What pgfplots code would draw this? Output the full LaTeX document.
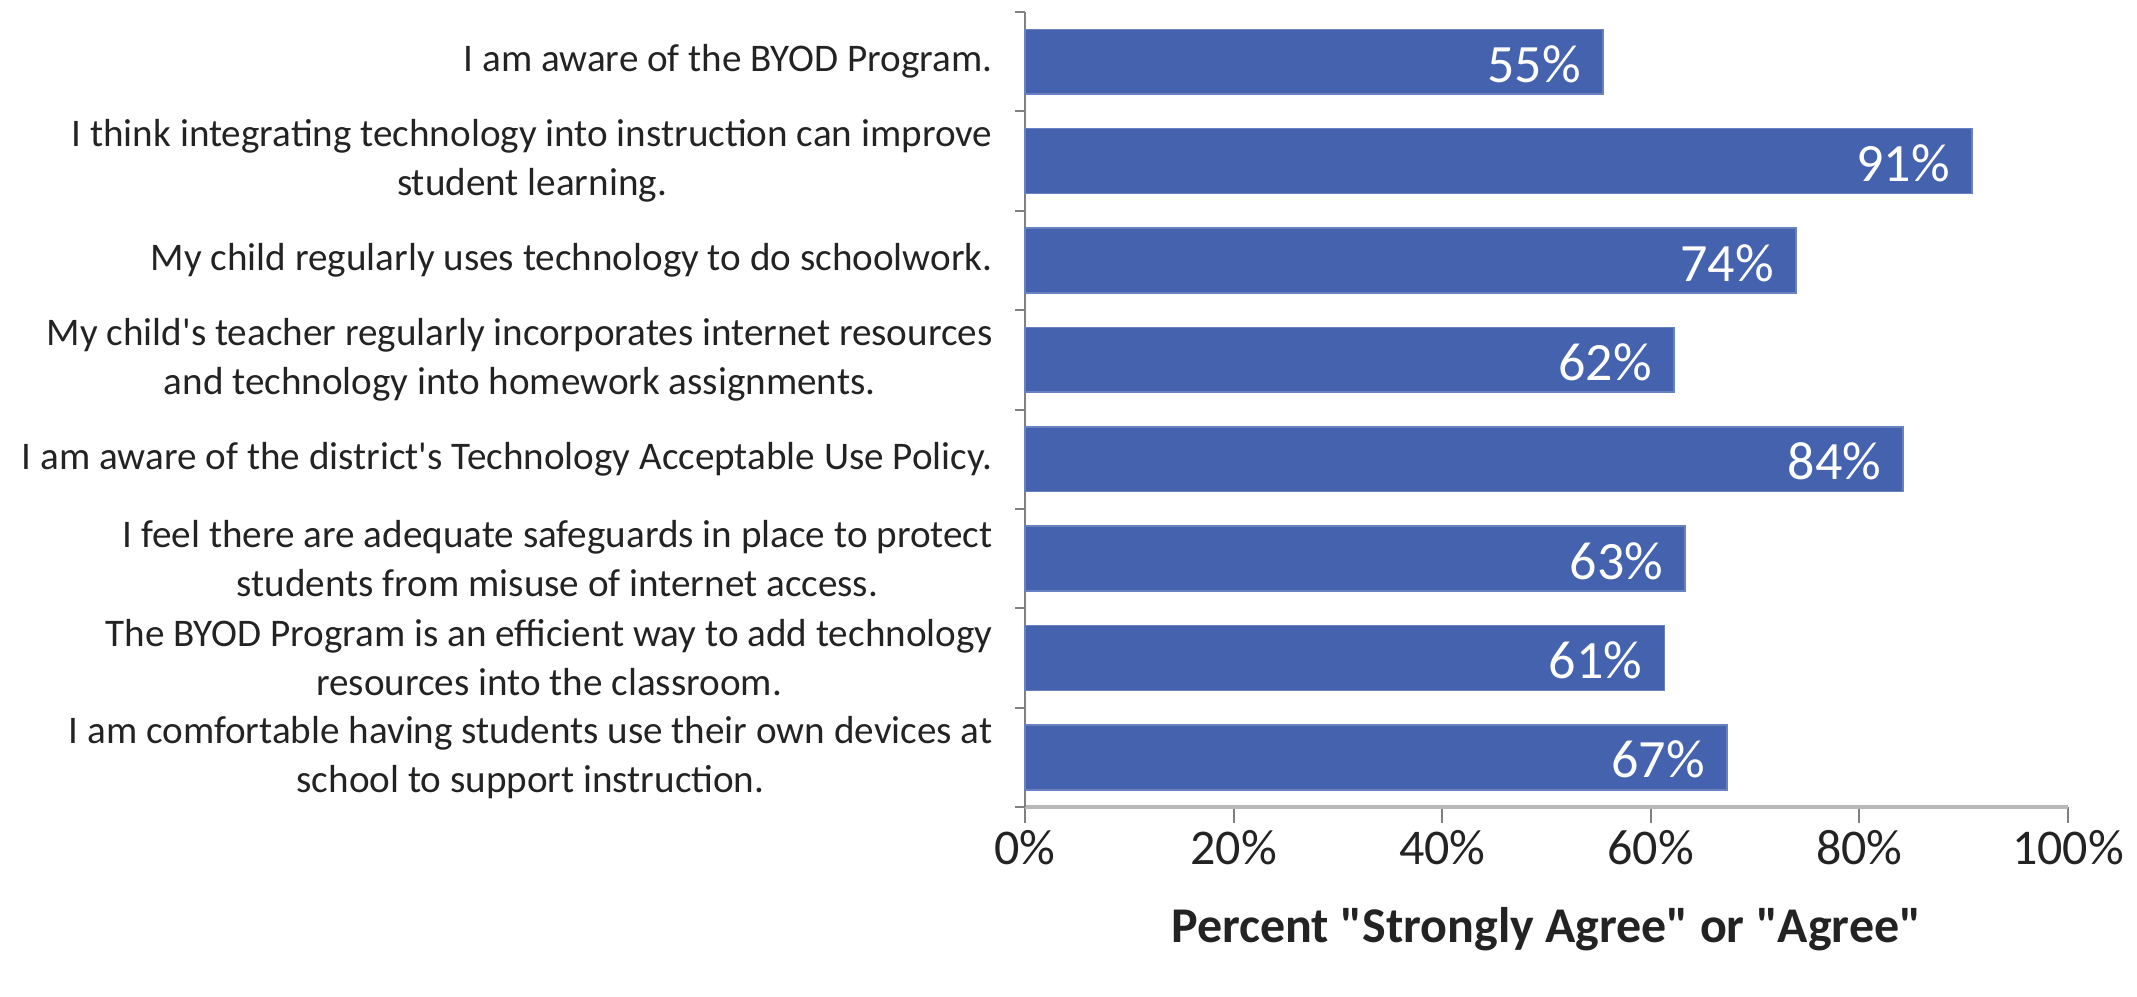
\documentclass[border=0pt]{standalone}
\usepackage{pgfplots}
\pgfplotsset{compat=1.18}
\usepackage{fontspec}
\setmainfont{Carlito}
\definecolor{barblue}{RGB}{69,98,175}
\definecolor{txt}{RGB}{35,35,35}
\begin{document}
\begin{tikzpicture}
\useasboundingbox (0,0) rectangle (534.25pt,249pt);
\begin{axis}[
  at={(256.25pt,47.25pt)}, anchor=south west,
  scale only axis, width=260.75pt, height=198.75pt,
  xmin=0, xmax=100, ymin=-0.5, ymax=7.5, y dir=reverse,
  axis lines=left,
  x axis line style={-, draw=black!28, line width=1.2pt},
  y axis line style={-, draw=black!50, line width=0.5pt},
  xtick={0,20,40,60,80,100},
  xticklabels={0\%,20\%,40\%,60\%,80\%,100\%},
  xtick style={draw=black!50, line width=0.5pt},
  ytick={0,...,7},
  major y tick style={draw=none},
  minor ytick={-0.5,0.5,...,7.5},
  minor y tick style={draw=black!50, line width=0.5pt},
  tick align=outside,
  major tick length=4pt, minor tick length=2.5pt,
  yticklabels={
    {I am aware of the BYOD Program.},
    {I think integrating technology into instruction can improve\\student learning.},
    {My child regularly uses technology to do schoolwork.},
    {My child\textquotesingle s teacher regularly incorporates internet resources\\and technology into homework assignments.},
    {I am aware of the district\textquotesingle s Technology Acceptable Use Policy.},
    {I feel there are adequate safeguards in place to protect\\students from misuse of internet access.},
    {The BYOD Program is an efficient way to add technology\\resources into the classroom.},
    {I am comfortable having students use their own devices at\\school to support instruction.}
  },
  yticklabel style={align=center, font=\fontsize{9.78pt}{12.3pt}\selectfont, text=txt, xshift=-0.6pt},
  xticklabel style={font=\fontsize{12.5pt}{15pt}\selectfont, text=txt, yshift=1.7pt},
  xlabel={\textbf{Percent \textquotedbl Strongly Agree\textquotedbl{} or \textquotedbl Agree\textquotedbl}},
  xlabel style={font=\fontsize{12.5pt}{15pt}\selectfont, text=txt, yshift=-3.8pt},
  xbar, bar width=16.2pt,
  /pgf/number format/assume math mode=true,
  nodes near coords={\pgfmathprintnumber[fixed,precision=0,assume math mode=true]{\pgfplotspointmeta}\%},
  nodes near coords style={anchor=east, xshift=-2pt, yshift=-0.6pt, text=white, font=\fontsize{13.5pt}{15pt}\selectfont},
  point meta=x,
  clip=false,
]
\addplot[fill=barblue, draw=barblue!80!white, line width=0.4pt] coordinates {
  (55.4,0) (90.8,1) (73.9,2) (62.2,3) (84.2,4) (63.3,5) (61.3,6) (67.3,7)
};
\end{axis}
\end{tikzpicture}
\end{document}
